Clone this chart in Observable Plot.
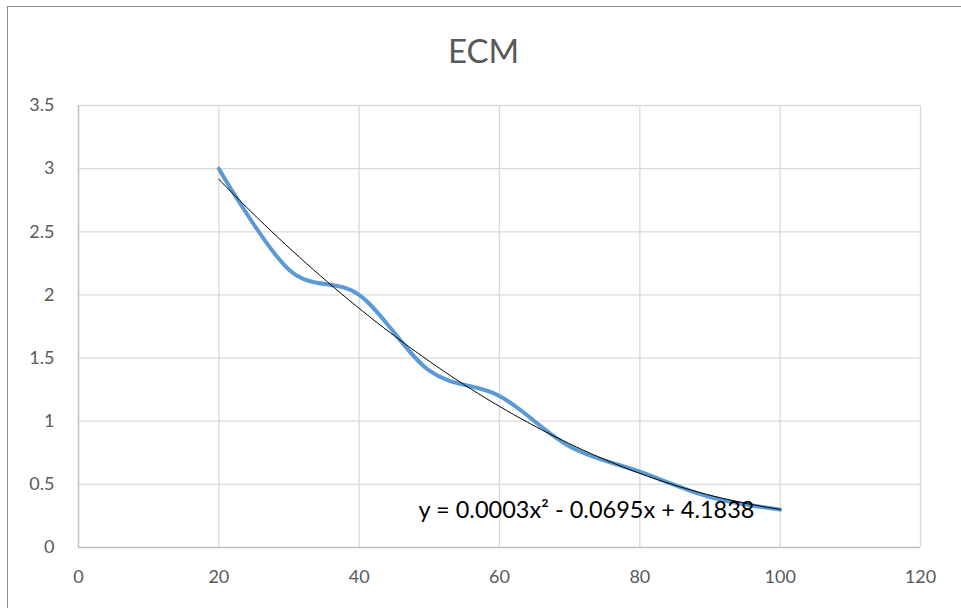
<!DOCTYPE html>
<html>
<head>
<meta charset="utf-8">
<script src="https://cdn.jsdelivr.net/npm/d3@7"></script>
<script src="https://cdn.jsdelivr.net/npm/@observablehq/plot@0.6"></script>
<style>
  html, body { margin: 0; padding: 0; background: #fff; }
  #wrap { position: relative; width: 961px; height: 608px; overflow: hidden; font-family: Lato, "Noto Sans", sans-serif; }
  #frame { position: absolute; left: 7px; top: 6px; width: 1000px; height: 700px; border-top: 1.5px solid #8c8c8c; border-left: 1.5px solid #8c8c8c; box-sizing: border-box; }
  #title { position: relative; height: 90px; line-height: 100px; text-align: center; font-size: 33px; color: #595959; padding-left: 6px; }
  #chart { position: relative; }
</style>
</head>
<body>
<div id="wrap">
  <div id="frame"></div>
  <div id="title">ECM</div>
  <div id="chart"></div>
</div>
<script>
// Data
const xValues = [20, 30, 40, 50, 60, 70, 80, 90, 100];
const ecmValues = [3.0, 2.2, 2.0, 1.4, 1.2, 0.8, 0.6, 0.4, 0.3];
const xTicks = [0, 20, 40, 60, 80, 100, 120];
const yTicks = [0, 0.5, 1, 1.5, 2, 2.5, 3, 3.5];
const trendLabel = "y = 0.0003x² - 0.0695x + 4.1838";

const series = xValues.map((x, i) => ({x, y: ecmValues[i]}));

// Least-squares quadratic fit of the data (Excel polynomial trendline, order 2)
function quadFit(xs, ys) {
  const n = xs.length;
  let s1 = 0, s2 = 0, s3 = 0, s4 = 0, t0 = 0, t1 = 0, t2 = 0;
  for (let i = 0; i < n; i++) {
    const x = xs[i], y = ys[i];
    s1 += x; s2 += x * x; s3 += x * x * x; s4 += x * x * x * x;
    t0 += y; t1 += x * y; t2 += x * x * y;
  }
  const M = [[n, s1, s2, t0], [s1, s2, s3, t1], [s2, s3, s4, t2]];
  for (let i = 0; i < 3; i++) {
    for (let k = i + 1; k < 3; k++) {
      const f = M[k][i] / M[i][i];
      for (let j = i; j < 4; j++) M[k][j] -= f * M[i][j];
    }
  }
  const c = [0, 0, 0];
  for (let i = 2; i >= 0; i--) {
    let s = M[i][3];
    for (let j = i + 1; j < 3; j++) s -= M[i][j] * c[j];
    c[i] = s / M[i][i];
  }
  return c; // [c0, c1, c2]
}
const coef = quadFit(xValues, ecmValues);
const trend = d3.range(xValues[0], xValues[xValues.length - 1] + 0.25, 0.5)
  .map(x => ({x, y: coef[0] + coef[1] * x + coef[2] * x * x}));

const chart = Plot.plot({
  width: 961,
  height: 518,
  marginLeft: 78,
  marginRight: 41,
  marginTop: 15,
  marginBottom: 61,
  style: { fontFamily: "Lato, 'Noto Sans', sans-serif", fontSize: "18px", color: "#595959", background: "transparent" },
  x: { domain: [0, 120], ticks: xTicks },
  y: { domain: [0, 3.5], ticks: yTicks },
  marks: [
    Plot.gridX(xTicks.filter(d => d > 0), { stroke: "#d9d9d9", strokeOpacity: 1, strokeWidth: 1.3 }),
    Plot.gridY(yTicks.filter(d => d > 0), { stroke: "#d9d9d9", strokeOpacity: 1, strokeWidth: 1.3 }),
    Plot.ruleX([0], { stroke: "#bfbfbf", strokeWidth: 1.5 }),
    Plot.ruleY([0], { stroke: "#bfbfbf", strokeWidth: 1.5 }),
    Plot.axisX({ ticks: xTicks, tickSize: 0, tickPadding: 23, tickFormat: d => String(d), label: null, fill: "#595959" }),
    Plot.axisY({ ticks: yTicks, tickSize: 0, tickPadding: 24, tickFormat: d => String(d), label: null, fill: "#595959" }),
    Plot.line(series, { x: "x", y: "y", stroke: "#5b9bd5", strokeWidth: 4, curve: "cardinal", tension: 0 }),
    Plot.line(trend, { x: "x", y: "y", stroke: "#000", strokeWidth: 1 }),
    Plot.text([trendLabel], { text: d => d, frameAnchor: "bottom-left", textAnchor: "start", dx: 340, dy: -30, fontSize: 23.5, fill: "#000" })
  ]
});
document.getElementById("chart").appendChild(chart);
</script>
</body>
</html>
